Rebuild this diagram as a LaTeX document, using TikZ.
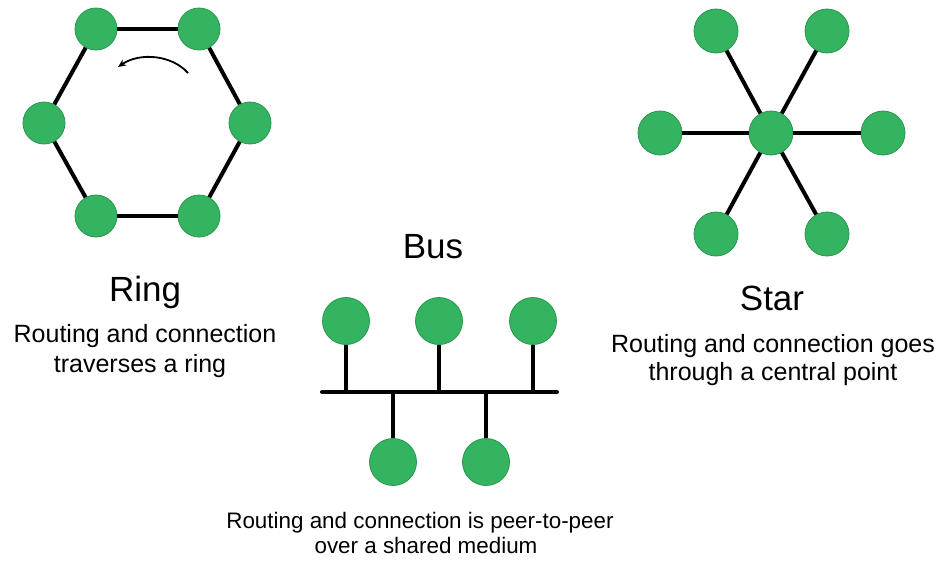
\documentclass[tikz,border=0pt]{standalone}
\usepackage{fontspec}
\setmainfont{Liberation Sans}
\usetikzlibrary{arrows.meta}
\definecolor{nodegreen}{RGB}{52,180,96}
\definecolor{nodeedge}{RGB}{40,150,78}
\tikzset{
  dot/.style={circle, fill=nodegreen, draw=nodeedge, line width=0.8pt, inner sep=0pt, minimum size=#1},
  link/.style={line width=4pt, black},
  title/.style={anchor=base, font=\fontsize{35}{40}\selectfont, inner sep=0pt},
  sub/.style={anchor=base, font=\fontsize{25}{30}\selectfont, inner sep=0pt},
  subb/.style={anchor=base, font=\fontsize{22.4}{27}\selectfont, inner sep=0pt}
}
\begin{document}
\begin{tikzpicture}[x=1pt, y=-1pt]
\useasboundingbox (0,0) rectangle (940,563);
% ---------- Ring ----------
\node[dot=42] (r1) at (96,29) {};
\node[dot=42] (r2) at (199,29) {};
\node[dot=42] (r3) at (250,123) {};
\node[dot=42] (r4) at (199,216) {};
\node[dot=42] (r5) at (96,216) {};
\node[dot=42] (r6) at (44,123) {};
\draw[link] (r1) -- (r2);
\draw[link] (r2) -- (r3);
\draw[link] (r3) -- (r4);
\draw[link] (r4) -- (r5);
\draw[link] (r5) -- (r6);
\draw[link] (r6) -- (r1);
\coordinate (arrS) at (188,73);
\coordinate (arrE) at (118,67);
\draw[line width=1.8pt, -{Stealth[length=8pt,width=7pt]}] (arrS) .. controls (172,55) and (140,52) .. (arrE);
\node[title] (ringT) at (145,301) {Ring};
\node[sub] (ringS1) at (145,342) {Routing and connection};
\node[sub] (ringS2) at (140,372) {traverses a ring};
% ---------- Star ----------
\node[dot=44] (sc) at (771,133) {};
\node[dot=44] (s1) at (716,31) {};
\node[dot=44] (s2) at (827,31) {};
\node[dot=44] (s3) at (883,133) {};
\node[dot=44] (s4) at (827,234) {};
\node[dot=44] (s5) at (716,234) {};
\node[dot=44] (s6) at (660,133) {};
\foreach \s in {s1,s2,s3,s4,s5,s6} \draw[link] (sc) -- (\s);
\node[title] (starT) at (772,310) {Star};
\node[sub] (starS1) at (773,352) {Routing and connection goes};
\node[sub] (starS2) at (773,380) {through a central point};
% ---------- Bus ----------
\coordinate (busL) at (322,392);
\coordinate (busR) at (557,392);
\node[dot=47] (b1) at (346,321) {};
\node[dot=47] (b2) at (439,321) {};
\node[dot=47] (b3) at (533,321) {};
\node[dot=47] (b4) at (393,462) {};
\node[dot=47] (b5) at (486,462) {};
\draw[link, line cap=round] (busL) -- (busR);
\foreach \b in {b1,b2,b3,b4,b5} \draw[link] (\b) -- (\b |- busL);
\node[title] (busT) at (433,258) {Bus};
\node[subb] (busS1) at (420,528) {Routing and connection is peer-to-peer};
\node[subb] (busS2) at (426,553) {over a shared medium};
\end{tikzpicture}
\end{document}
